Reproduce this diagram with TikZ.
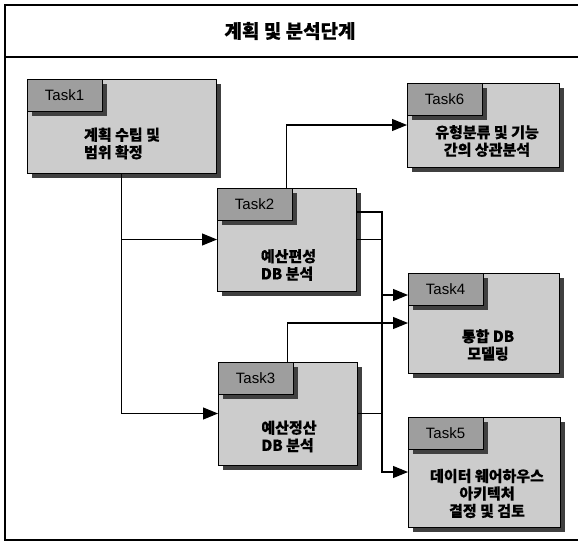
\documentclass[tikz,border=0pt]{standalone}
\usepackage{fontspec}
\setmainfont{Liberation Sans}
\newfontfamily\krfont{Noto Sans CJK KR}[FakeBold=0.35]
\usetikzlibrary{positioning,shadows,arrows.meta}

\begin{document}
\begin{tikzpicture}[x=1pt,y=-1pt,
			taskbox/.style={rectangle, draw=black, line width=0.9pt, fill=black!20, inner sep=0pt, outer sep=0pt,
				drop shadow={shadow xshift=5pt, shadow yshift=-5pt, fill=black!75, opacity=1}},
			tasktab/.style={taskbox, anchor=north west, fill=black!38, minimum width=75pt, minimum height=32pt,
				font=\fontsize{15}{18}\selectfont},
			tasktext/.style={align=center, font=\krfont\bfseries\fontsize{15}{17.5}\selectfont},
			flow/.style={line width=1.1pt, -{Triangle[length=15pt,width=12pt]}},
			link/.style={line width=1.1pt},
		]
		
			\useasboundingbox (0,0) rectangle (578,544);
		
			%Frame
			\draw[line width=2.2pt] (578,5) -- (5,5) -- (5,540) -- (578,540);
			\draw[line width=1.3pt] (5,57) -- (578,57);
			\node[font=\krfont\bfseries\fontsize{19}{22}\selectfont] (title) at (290,31) {계획 및 분석단계};
		
			%Nodes
			\node[taskbox, minimum width=189pt, minimum height=94pt]	(t1) at (121.5,126)	{};
			\node[tasktab]	(t1tab) at (t1.north west)	{Task1};
			\node[tasktext, align=left]	(t1txt) at (122,143.5)	{계획 수립 및\\범위 확정};
		
			\node[taskbox, minimum width=139pt, minimum height=103pt]	(t2) at (286.5,239.5)	{};
			\node[tasktab]	(t2tab) at (t2.north west)	{Task2};
			\node[tasktext, align=left]	(t2txt) at (288.5,265)	{예산편성\\DB 분석};
		
			\node[taskbox, minimum width=139pt, minimum height=103pt]	(t3) at (287.5,413.5)	{};
			\node[tasktab]	(t3tab) at (t3.north west)	{Task3};
			\node[tasktext, align=left]	(t3txt) at (289,436.5)	{예산정산\\DB 분석};
		
			\node[taskbox, minimum width=151pt, minimum height=100pt]	(t4) at (483.5,323)	{};
			\node[tasktab]	(t4tab) at (t4.north west)	{Task4};
			\node[tasktext]	(t4txt) at (488,345)	{통합 DB\\모델링};
		
			\node[taskbox, minimum width=152pt, minimum height=110pt]	(t5) at (484,472)	{};
			\node[tasktab]	(t5tab) at (t5.north west)	{Task5};
			\node[tasktext]	(t5txt) at (487,493.5)	{데이터 웨어하우스\\아키텍처\\결정 및 검토};
		
			\node[taskbox, minimum width=152pt, minimum height=84pt]	(t6) at (483,125)	{};
			\node[tasktab]	(t6tab) at (t6.north west)	{Task6};
			\node[tasktext]	(t6txt) at (487,141)	{유형분류 및 기능\\간의 상관분석};
		
			%Lines
			\coordinate (bus) at (382,212);
			\coordinate (t4in) at (382,295);
			\draw[flow]	(t1.south) |- (t3.west);
			\draw[flow]	(t1.south |- t2.west) -- (t2.west);
			\draw[flow]	(t2.north) |- (t6.west);
			\draw[flow]	(t3.north) |- (t4.west);
			\draw[flow]	(t2.east |- bus) -- (bus) |- (t5.west);
			\draw[link]	(t2.east) -- (t2.east -| bus);
			\draw[flow]	(t4in) -- (t4in -| t4.west);
			\draw[link]	(t3.east) -- (t3.east -| bus);
		
		\end{tikzpicture}
\end{document}
